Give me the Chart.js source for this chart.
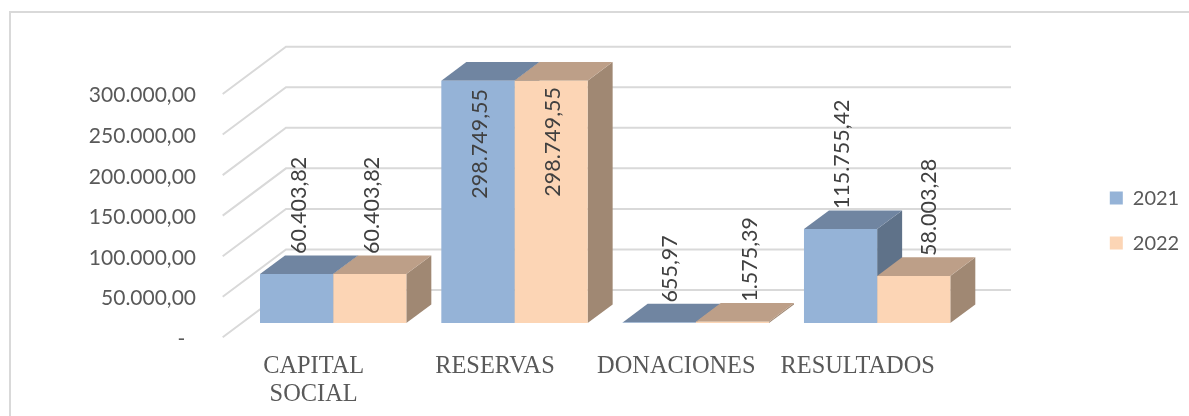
<!DOCTYPE html>
<html>
<head>
<meta charset="utf-8">
<script src="https://cdn.jsdelivr.net/npm/chart.js@4"></script>
<style>
  body { margin: 0; background: #fff; }
  #frame { position: absolute; left: 9px; top: 11px; width: 1200px; height: 420px; border: 2px solid #d9d9d9; }
  .wrap { position: absolute; left: 0; top: 0; width: 1189px; height: 416px; overflow: hidden; }
</style>
</head>
<body>
<div class="wrap">
  <div id="frame"></div>
  <canvas id="myChart" width="1189" height="416" style="position:absolute;left:0;top:0"></canvas>
</div>
<script>
const categories = [['CAPITAL', 'SOCIAL'], 'RESERVAS', 'DONACIONES', 'RESULTADOS'];
const values2021 = [60403.82, 298749.55, 655.97, 115755.42];
const values2022 = [60403.82, 298749.55, 1575.39, 58003.28];
const seriesNames = ['2021', '2022'];
const yTicks = [0, 50000, 100000, 150000, 200000, 250000, 300000];

const labelFont = '21.5px Lato';
const depthX = 25, depthY = 18.6;
const fmt = v => v.toLocaleString('de-DE', { minimumFractionDigits: 2, maximumFractionDigits: 2 });

// top and side colours per series [top, side]
const shades = [['#7085a1', '#5f7289'], ['#bd9f88', '#a08873']];
// hand moved labels, the reference has them dragged around
const labelMoves = {
  '0-1': { dx: 0, dy: 138 },
  '1-1': { dx: 0, dy: 136 },
  '0-2': { dx: 9, dy: 0 },
  '1-2': { dx: 16, dy: 0 },
  '1-3': { dx: 13, dy: 0 }
};

function poly(ctx, pts, color) {
  ctx.fillStyle = color;
  ctx.beginPath();
  pts.forEach((p, i) => i ? ctx.lineTo(p[0], p[1]) : ctx.moveTo(p[0], p[1]));
  ctx.closePath();
  ctx.fill();
}

// back wall and side wall lines
const wallPlugin = {
  id: 'wall',
  beforeDatasetsDraw(chart) {
    const ctx = chart.ctx, y = chart.scales.y;
    ctx.save();
    ctx.strokeStyle = '#d9d9d9';
    ctx.lineWidth = 2;
    yTicks.forEach(t => {
      const py = y.getPixelForValue(t);
      ctx.beginPath();
      ctx.moveTo(222.7, py + 14.3);
      ctx.lineTo(286, py - 33);
      ctx.lineTo(1011, py - 33);
      ctx.stroke();
    });
    // bar tops and sides, the fronts come from the library
    chart.data.datasets.forEach((ds, d) => {
      chart.getDatasetMeta(d).data.forEach(bar => {
        const l = bar.x - bar.width / 2, r = bar.x + bar.width / 2;
        const t = bar.y, b = bar.base;
        poly(ctx, [[r, t], [r + depthX, t - depthY], [r + depthX, b - depthY], [r, b]], shades[d][1]);
        poly(ctx, [[l, t], [l + depthX, t - depthY], [r + depthX, t - depthY], [r, t]], shades[d][0]);
      });
    });
    ctx.restore();
  }
};

const valueLabelPlugin = {
  id: 'valueLabels',
  afterDatasetsDraw(chart) {
    const ctx = chart.ctx;
    ctx.save();
    ctx.font = labelFont;
    ctx.fillStyle = '#404040';
    ctx.textAlign = 'left';
    ctx.textBaseline = 'middle';
    chart.data.datasets.forEach((ds, d) => {
      chart.getDatasetMeta(d).data.forEach((bar, i) => {
        const move = labelMoves[d + '-' + i] || { dx: 0, dy: 0 };
        ctx.save();
        ctx.translate(bar.x + 2 + move.dx, bar.y - 20 + move.dy);
        ctx.rotate(-Math.PI / 2);
        ctx.fillText(fmt(ds.data[i]), 0, 0);
        ctx.restore();
      });
    });
    ctx.restore();
  }
};

// the legend sits further right and higher than the layout would put it
const legendShift = {
  id: 'legendShift',
  afterLayout(chart) {
    chart.legend.left += 117;
    chart.legend.right += 117;
    chart.legend.top -= 27.3;
    chart.legend.bottom -= 27.3;
  }
};

const myChartRef = document.getElementById('myChart').getContext('2d');
new Chart(myChartRef, {
  type: 'bar',
  plugins: [wallPlugin, valueLabelPlugin, legendShift],
  data: {
    labels: categories,
    datasets: [
      { label: seriesNames[0], data: values2021, backgroundColor: '#95b3d7' },
      { label: seriesNames[1], data: values2022, backgroundColor: '#fcd5b5' }
    ]
  },
  options: {
    responsive: false,
    animation: false,
    layout: { padding: { top: 79.7, bottom: 0, left: 0, right: 116.8 } },
    datasets: { bar: { categoryPercentage: 0.807, barPercentage: 1 } },
    plugins: {
      tooltip: { enabled: false },
      legend: {
        position: 'right',
        labels: {
          boxWidth: 13,
          boxHeight: 13,
          padding: 25,
          color: '#595959',
          font: { family: 'Lato', size: 20 }
        }
      }
    },
    scales: {
      x: {
        grid: { display: false, drawTicks: false },
        border: { display: false },
        afterFit: s => { s.height = 93; },
        ticks: {
          maxRotation: 0,
          autoSkip: false,
          padding: 30,
          labelOffset: -19.5,
          color: '#595959',
          font: { family: 'Liberation Serif', size: 24.4, lineHeight: 1.15 }
        }
      },
      y: {
        min: 0,
        max: 300000,
        grid: { display: false, drawTicks: false },
        border: { display: false },
        afterFit: s => { s.width = 242.5; },
        ticks: {
          stepSize: 50000,
          padding: 46.5,
          labelOffset: 16,
          color: '#595959',
          font: { family: 'Lato', size: 21 },
          callback: v => v === 0 ? '-  ' : fmt(v)
        }
      }
    }
  }
});
</script>
</body>
</html>
